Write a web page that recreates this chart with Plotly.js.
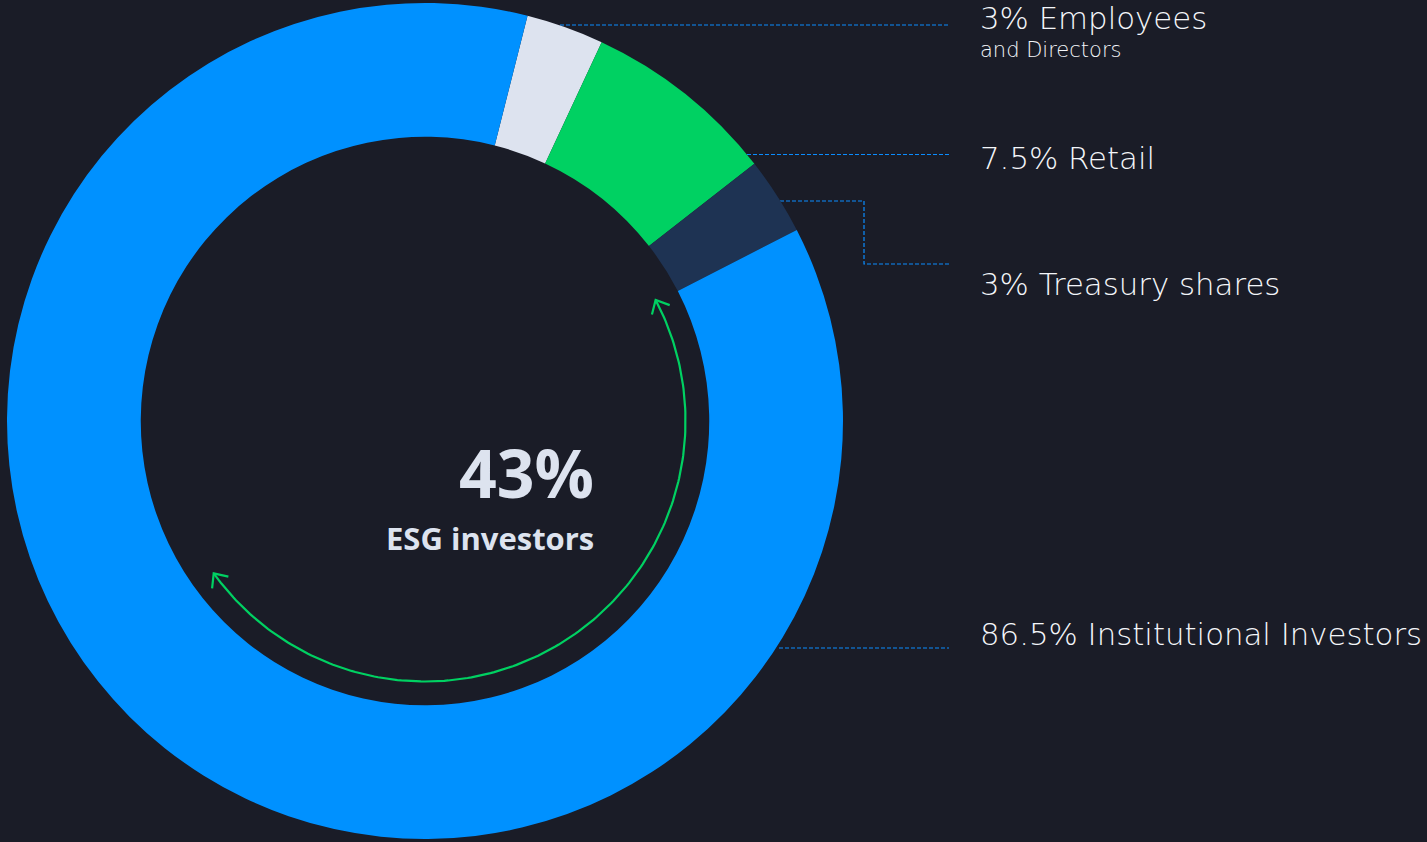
<!DOCTYPE html>
<html>
<head>
<meta charset="utf-8">
<script src="https://cdn.plot.ly/plotly-3.0.1.min.js"></script>
<style>
  html, body { margin: 0; padding: 0; background: #1a1c27; }
  #chart { width: 1427px; height: 842px; }
</style>
</head>
<body>
<div id="chart"></div>
<script>
// ---- data ----
var categories = ["Employees and Directors", "Retail", "Treasury shares", "Institutional Investors"];
var shares = [3, 7.5, 3, 86.5];
var labelMain = ["3% Employees", "7.5% Retail", "3% Treasury shares", "86.5% Institutional Investors"];
var labelSub = ["and Directors", "", "", ""];
var centerValue = "43%";
var centerLabel = "ESG investors";
var esgShare = 43;

// ---- styling / geometry ----
var W = 1427, H = 842;
var BG = "#1a1c27";
var sliceColors = ["#dde3ef", "#00d162", "#1e3353", "#0091ff"];
var cx = 425, cy = 421, R = 418;
var startRotation = 14.2;
var arcR = 260.5, arcFrom = 62.3, arcTo = 234.2;
var leaderColor = "#0a8cff";
var textColor = "#f4f6fa";
var labelFont = "'DejaVu Sans', Inter, sans-serif";
var labelX = 978;
var labelY = [18, 157.5, 283.5, 633.5];
var leaders = [
  {x: [560, 949], y: [25, 25]},
  {x: [747, 949], y: [154.5, 154.5]},
  {x: [780, 864, 864, 949], y: [201, 201, 264, 264]},
  {x: [779, 949], y: [648, 648]}
];

var traces = [];

// donut
traces.push({
  type: "pie",
  labels: categories,
  values: shares,
  sort: false,
  direction: "clockwise",
  rotation: startRotation,
  hole: 0.68,
  textinfo: "none",
  hoverinfo: "label+percent",
  marker: {colors: sliceColors, line: {width: 0}},
  showlegend: false,
  domain: {x: [(cx - R) / W, (cx + R) / W], y: [(H - cy - R) / H, (H - cy + R) / H]}
});

// leader lines
leaders.forEach(function (l) {
  traces.push({
    type: "scatter", mode: "lines", x: l.x, y: l.y,
    line: {color: leaderColor, width: 1.2, dash: "4px,2px"},
    hoverinfo: "skip", showlegend: false, xaxis: "x", yaxis: "y"
  });
});

// green arc with arrowheads
function pt(aDeg, r) {
  var a = aDeg * Math.PI / 180;
  return [cx + r * Math.sin(a), cy - r * Math.cos(a)];
}
var ax = [], ay = [];
for (var i = 0; i <= 200; i++) {
  var a = arcFrom + (arcTo - arcFrom) * i / 200;
  var p = pt(a, arcR);
  ax.push(p[0]); ay.push(p[1]);
}
traces.push({
  type: "scatter", mode: "lines", x: ax, y: ay,
  line: {color: "#00d162", width: 2.2}, hoverinfo: "skip", showlegend: false
});
function chevron(aDeg, sign) {
  var a = aDeg * Math.PI / 180;
  var tip = pt(aDeg, arcR);
  var dx = sign * Math.cos(a), dy = sign * Math.sin(a);
  var L = 15, spread = 42 * Math.PI / 180;
  function rot(x, y, t) { return [x * Math.cos(t) - y * Math.sin(t), x * Math.sin(t) + y * Math.cos(t)]; }
  var b1 = rot(-dx, -dy, spread), b2 = rot(-dx, -dy, -spread);
  return {
    x: [tip[0] + L * b1[0], tip[0], tip[0] + L * b2[0]],
    y: [tip[1] + L * b1[1], tip[1], tip[1] + L * b2[1]]
  };
}
[chevron(arcFrom, -1), chevron(arcTo, 1)].forEach(function (c) {
  traces.push({
    type: "scatter", mode: "lines", x: c.x, y: c.y,
    line: {color: "#00d162", width: 2.2}, hoverinfo: "skip", showlegend: false
  });
});

// annotations
var annotations = [];
labelMain.forEach(function (t, k) {
  annotations.push({
    xref: "x", yref: "y", x: labelX, y: labelY[k], xanchor: "left", yanchor: "middle",
    text: t, showarrow: false,
    font: {family: labelFont, size: 30.8, color: textColor, weight: 200}
  });
  if (labelSub[k]) {
    annotations.push({
      xref: "x", yref: "y", x: labelX, y: labelY[k] + 32, xanchor: "left", yanchor: "middle",
      text: labelSub[k], showarrow: false,
      font: {family: labelFont, size: 21, color: textColor, weight: 200}
    });
  }
});
annotations.push({
  xref: "x", yref: "y", x: 596, y: 471.5, xanchor: "right", yanchor: "middle",
  text: centerValue, showarrow: false,
  font: {family: "'Open Sans', sans-serif", size: 66, color: "#dde3ef", weight: 700}
});
annotations.push({
  xref: "x", yref: "y", x: 596, y: 537.5, xanchor: "right", yanchor: "middle",
  text: centerLabel, showarrow: false,
  font: {family: "'Open Sans', sans-serif", size: 31, color: "#dde3ef", weight: 700}
});

var layout = {
  width: W, height: H,
  margin: {l: 0, r: 0, t: 0, b: 0, pad: 0},
  paper_bgcolor: BG, plot_bgcolor: "rgba(0,0,0,0)",
  showlegend: false,
  xaxis: {range: [0, W], visible: false, fixedrange: true},
  yaxis: {range: [H, 0], visible: false, fixedrange: true},
  annotations: annotations
};

Plotly.newPlot("chart", traces, layout, {displayModeBar: false, staticPlot: true});
</script>
</body>
</html>
